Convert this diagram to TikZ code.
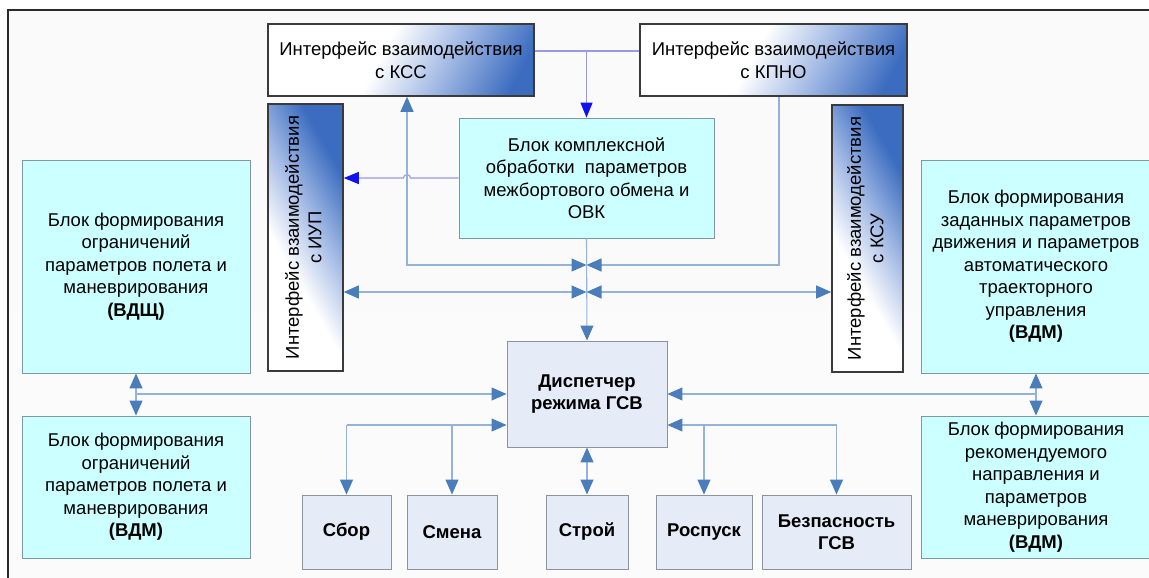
\documentclass[tikz,border=0pt]{standalone}
\usepackage{fontspec}
\setmainfont{Liberation Sans}
\usepackage{graphicx}
\usetikzlibrary{arrows.meta,shadings}
\definecolor{linecol}{HTML}{95B3D7}
\definecolor{tipblue}{HTML}{4A7EBB}
\definecolor{lavline}{HTML}{9A9AE0}
\definecolor{pureblue}{HTML}{1010F0}
\definecolor{cyanfill}{HTML}{CCFFFF}
\definecolor{cyanborder}{HTML}{7F96A8}
\definecolor{lavfill}{HTML}{E6EBF8}
\definecolor{lavborder}{HTML}{8C929E}
\definecolor{ifblue}{HTML}{3B6CC0}
\definecolor{ifmid}{HTML}{A7BDE6}
\definecolor{ifborder}{HTML}{3A3A3A}
\definecolor{bgtop}{HTML}{FAFAFA}
\definecolor{bgmid}{HTML}{D2D2D2}
\definecolor{bgbot}{HTML}{FBFBFB}
\definecolor{framecol}{HTML}{2A2A2A}
\pgfdeclarehorizontalshading{ifsh}{100bp}{color(0bp)=(white); color(45bp)=(white); color(60bp)=(ifmid); color(78bp)=(ifblue); color(100bp)=(ifblue)}
\pgfdeclarehorizontalshading{ifshv}{100bp}{color(0bp)=(white); color(40bp)=(white); color(55bp)=(ifmid); color(72bp)=(ifblue); color(100bp)=(ifblue)}
\newcommand{\mainfs}{\fontsize{18.5}{22.5}\selectfont}
\begin{document}
\begin{tikzpicture}[x=1pt,y=-1pt,
  >={Triangle[length=15pt,width=13pt,color=tipblue]},
  bluetip/.tip={Triangle[length=15pt,width=12pt,color=pureblue]},
  cyanbox/.style={draw=cyanborder, fill=cyanfill, line width=0.9pt, align=center, font=\mainfs, inner sep=2pt},
  lavbox/.style={draw=lavborder, fill=lavfill, line width=0.9pt, align=center, font={\mainfs\bfseries}, inner sep=2pt},
  ifbox/.style={draw=ifborder, line width=1.6pt, shade, shading=ifsh, shading angle=-28, align=center, font=\mainfs, inner sep=2pt},
  ifvbox/.style={draw=ifborder, line width=1.6pt, shade, shading=ifshv, shading angle=30, align=center, font=\mainfs, inner sep=2pt},
  conn/.style={draw=linecol, line width=1.1pt},
  bconn/.style={draw=lavline, line width=1.1pt}]
\useasboundingbox (0,0) rectangle (1149,578);
\clip (0,0) rectangle (1149,578);
\fill[white] (0,0) rectangle (1149,578);
\draw[framecol, line width=2.2pt, top color=bgtop, middle color=bgmid, bottom color=bgbot] (8,10) rectangle (1175,610);

% interface boxes
\node[ifbox, minimum width=266pt, minimum height=72pt] (kss) at (401,60) {Интерфейс взаимодействия\\с КСС};
\node[ifbox, minimum width=267pt, minimum height=72pt] (kpno) at (773.5,60) {Интерфейс взаимодействия\\с КПНО};
\node[ifvbox, minimum width=75pt, minimum height=267pt] (iup) at (305.5,237.5) {\rotatebox{90}{\begin{tabular}{@{}c@{}}Интерфейс взаимодействия\\с ИУП\end{tabular}}};
\node[ifvbox, minimum width=71pt, minimum height=267pt] (ksu) at (867.5,238.5) {\rotatebox{90}{\begin{tabular}{@{}c@{}}Интерфейс взаимодействия\\с КСУ\end{tabular}}};

% cyan blocks
\node[cyanbox, minimum width=255pt, minimum height=120pt] (ovk) at (586.5,178) {Блок комплексной\\обработки\ \ параметров\\межбортового обмена и\\ОВК};
\node[cyanbox, minimum width=228pt, minimum height=213pt] (lt) at (136,266.5) {Блок формирования\\ограничений\\параметров полета и\\маневрирования\\\textbf{(ВДЩ)}};
\node[cyanbox, minimum width=228pt, minimum height=142pt] (lb) at (136,487) {Блок формирования\\ограничений\\параметров полета и\\маневрирования\\\textbf{(ВДМ)}};
\node[cyanbox, minimum width=230pt, minimum height=213pt] (rt) at (1036,266.5) {Блок формирования\\заданных параметров\\движения и параметров\\автоматического\\траекторного\\управления\\\textbf{(ВДМ)}};
\node[cyanbox, minimum width=230pt, minimum height=142pt] (rb) at (1036,487) {Блок формирования\\рекомендуемого\\направления и\\параметров\\маневрирования\\\textbf{(ВДМ)}};

% dispatcher and modes
\node[lavbox, minimum width=160pt, minimum height=106pt] (disp) at (587,394) {Диспетчер\\режима ГСВ};
\node[lavbox, minimum width=89pt, minimum height=74pt] (sbor) at (346.5,532) {Сбор};
\node[lavbox, minimum width=90pt, minimum height=74pt] (smena) at (452,532) {Смена};
\node[lavbox, minimum width=82pt, minimum height=74pt] (stroy) at (587,532) {Строй};
\node[lavbox, minimum width=96pt, minimum height=74pt] (rospusk) at (704,532) {Роспуск};
\node[lavbox, minimum width=149pt, minimum height=74pt] (bez) at (836.5,532) {Безпасность\\ГСВ};

% helper coordinates
\coordinate (ktop) at (0,51);
\coordinate (vx) at (407,0);
\coordinate (kx) at (779,0);
\coordinate (row0) at (0,265);
\coordinate (row1) at (0,292);
\coordinate (row2) at (0,425);

% top connectors
\draw[bconn] (kss.east |- ktop) -- (kpno.west |- ktop);
\draw[bconn, -bluetip] (ovk.north |- ktop) -- (ovk.north);
\path (vx |- ovk.west) coordinate (hop);
\draw[bconn, -bluetip] (ovk.west) -- ([xshift=3.5pt]hop) arc[start angle=0, end angle=180, radius=3.5pt] -- (iup.east |- ovk.west);

\draw[conn, <->] (kss.south -| vx) -- (vx |- row0) -- (ovk.south |- row0);
\draw[conn, ->] (kpno.south -| kx) -- (kx |- row0) -- (ovk.south |- row0);
\draw[conn, <->] (iup.east |- row1) -- (ovk.south |- row1);
\draw[conn, <->] (ovk.south |- row1) -- (ksu.west |- row1);
\draw[conn, ->] (ovk.south) -- (disp.north);

% side connectors
\draw[conn, <->] (lt.south) -- (lb.north);
\draw[conn, ->] (lt.south |- disp.west) -- (disp.west);
\draw[conn, <->] (rt.south) -- (rb.north);
\draw[conn, ->] (rt.south |- disp.east) -- (disp.east);

% mode connectors
\draw[conn, ->] (sbor.north |- row2) -- (disp.west |- row2);
\draw[conn, ->] (sbor.north |- row2) -- (sbor.north);
\draw[conn, ->] (smena.north |- row2) -- (smena.north);
\draw[conn, ->] (bez.north |- row2) -- (disp.east |- row2);
\draw[conn, ->] (rospusk.north |- row2) -- (rospusk.north);
\draw[conn, ->] (bez.north |- row2) -- (bez.north);
\draw[conn, <->] (disp.south) -- (stroy.north);
\end{tikzpicture}
\end{document}
